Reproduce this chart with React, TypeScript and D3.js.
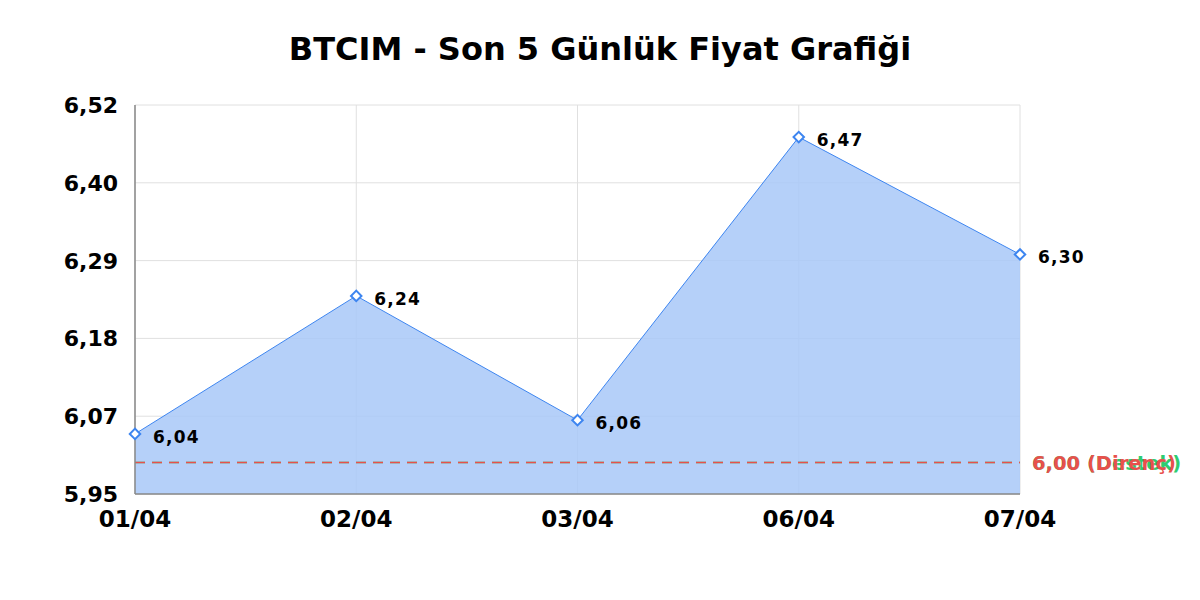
import React from "react";
import * as d3 from "d3";

const dates = ["01/04", "02/04", "03/04", "06/04", "07/04"];
const prices = [6.04, 6.24, 6.06, 6.47, 6.3];
const supportLevel = 6.0;
const resistanceLevel = 6.0;
const yMin = 5.953;
const yMax = 6.5165;
const title = "BTCIM - Son 5 Günlük Fiyat Grafiği";

const W = 1200, H = 600;
const M = { left: 135, right: 180, top: 105, bottom: 106 };
const font = "'DejaVu Sans', sans-serif";
const fmt = (v: number) => v.toFixed(2).replace(".", ",");

export default function App() {
  const x = d3.scalePoint<string>().domain(dates).range([M.left, W - M.right]).padding(0);
  const y = d3.scaleLinear().domain([yMin, yMax]).range([H - M.bottom, M.top]);
  const ticks = d3.range(6).map((i) => yMin + ((yMax - yMin) * i) / 5);
  const pts = dates.map((d, i) => ({ d, v: prices[i] }));
  const area = d3.area<{ d: string; v: number }>()
    .x((p) => x(p.d)!)
    .y0(y(yMin))
    .y1((p) => y(p.v))(pts)!;
  const line = d3.line<{ d: string; v: number }>()
    .x((p) => x(p.d)!)
    .y((p) => y(p.v))(pts)!;
  const x0 = M.left, x1 = W - M.right, yb = y(yMin), yt = y(yMax);
  const ys = Math.round(y(supportLevel)) + 0.5;
  const yr = Math.round(y(resistanceLevel)) + 0.5;
  return (
    <svg width={W} height={H} style={{ position: "absolute", left: 0, top: 0, background: "#fff" }}>
      <rect x={0} y={0} width={W} height={H} fill="#fff" />
      <text x={600} y={60} textAnchor="middle" fontFamily={font} fontWeight="bold" fontSize={32} fill="#000">{title}</text>
      {ticks.map((t, i) => (
        <line key={"h" + i} x1={x0} x2={x1} y1={y(t)} y2={y(t)} stroke="#e0e0e0" strokeWidth={1} />
      ))}
      {dates.map((d) => (
        <line key={"v" + d} x1={x(d)} x2={x(d)} y1={yt} y2={yb} stroke="#e0e0e0" strokeWidth={1} />
      ))}
      <path d={area} fill="#a8c8f8" fillOpacity={0.85} />
      <path d={line} fill="none" stroke="#3d85f0" strokeWidth={1} />
      <line x1={x0} x2={x1} y1={ys} y2={ys} stroke="#2ecc71" strokeWidth={1.5} strokeDasharray="10,7" />
      <line x1={x0} x2={x1} y1={yr} y2={yr} stroke="#e8504c" strokeWidth={1.5} strokeDasharray="10,7" />
      <text x={1032} y={ys + 7} fontFamily={font} fontWeight="bold" fontSize={19.5} fill="#2ecc71">{fmt(supportLevel)} (Destek)</text>
      <text x={1032} y={yr + 7} fontFamily={font} fontWeight="bold" fontSize={19.5} fill="#e8504c">{fmt(resistanceLevel)} (Direnç)</text>
      <line x1={x0} x2={x0} y1={yt} y2={yb} stroke="#888" strokeWidth={1.5} />
      <line x1={x0} x2={x1} y1={yb} y2={yb} stroke="#888" strokeWidth={1.5} />
      {ticks.map((t, i) => (
        <text key={"yt" + i} x={118} y={y(t) + 8} textAnchor="end" fontFamily={font} fontWeight="bold" fontSize={22} fill="#000">{fmt(t)}</text>
      ))}
      {dates.map((d) => (
        <text key={"xt" + d} x={x(d)} y={527} textAnchor="middle" fontFamily={font} fontWeight="bold" fontSize={23} fill="#000">{d}</text>
      ))}
      {pts.map((p) => (
        <g key={"m" + p.d}>
          <rect x={x(p.d)! - 3.7} y={y(p.v) - 3.7} width={7.4} height={7.4} fill="#fff" stroke="#3d85f0" strokeWidth={2}
            transform={`rotate(45 ${x(p.d)} ${y(p.v)})`} />
          <text x={x(p.d)! + 18} y={y(p.v) + 9} fontFamily={font} fontWeight="bold" fontSize={17} letterSpacing={1.2} fill="#000">{fmt(p.v)}</text>
        </g>
      ))}
    </svg>
  );
}
